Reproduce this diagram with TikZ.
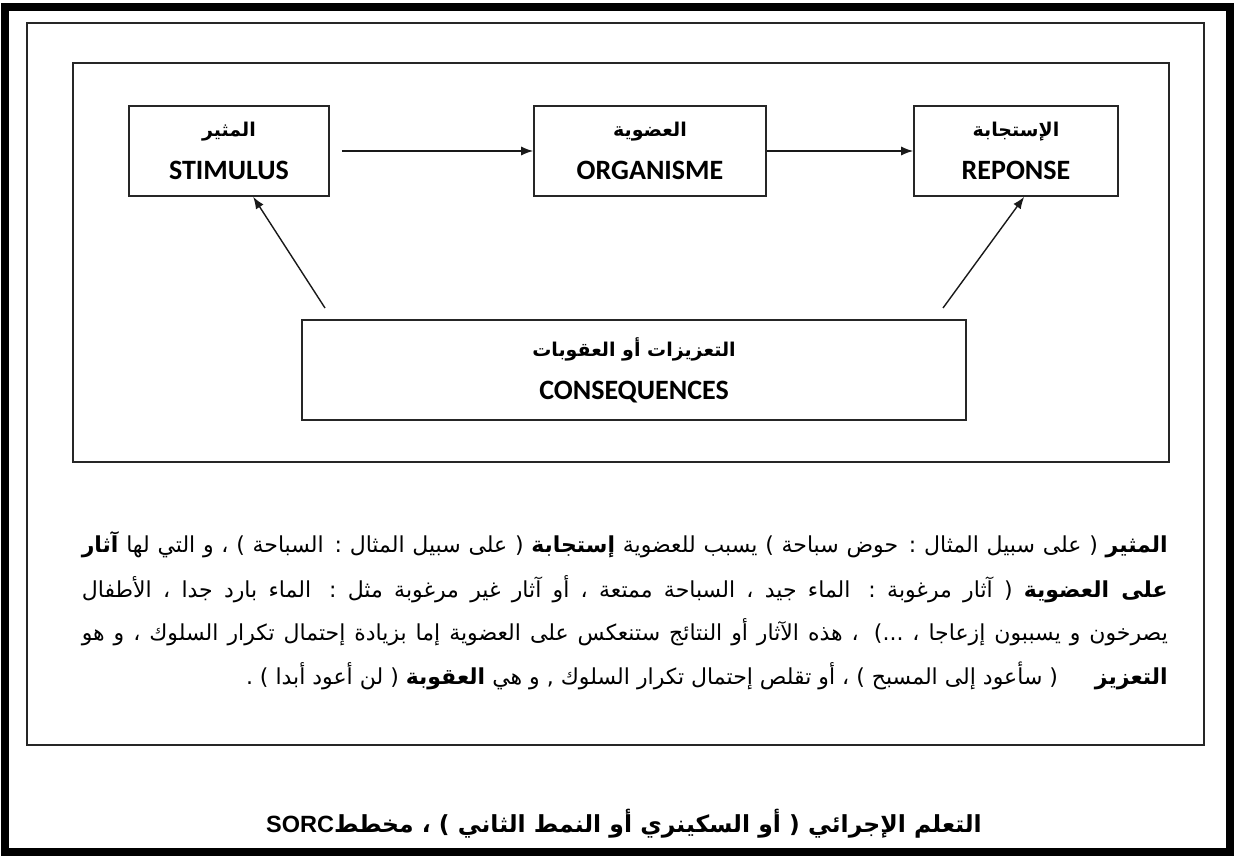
\documentclass[tikz,border=0pt]{standalone}
\usepackage{fontspec}
\usetikzlibrary{arrows.meta,calc}
\TeXXeTstate=1
\newfontfamily\arabicfont[Script=Arabic]{DejaVu Sans}
\newfontfamily\boxlatin{Carlito}
\newfontfamily\titlelatin{Liberation Sans}

% sizes of the text pieces
\newcommand\boxarabic{\arabicfont\bfseries\fontsize{19}{22}\selectfont}
\newcommand\boxword{\boxlatin\bfseries\fontsize{28}{30}\selectfont}
\newcommand\parfont{\arabicfont\fontsize{22}{24}\selectfont}

\begin{document}
\begin{tikzpicture}[x=1pt,y=-1pt,
  frame/.style={draw=black!85, line width=1.6pt},
  block/.style={draw=black!85, line width=1.6pt, inner sep=0pt, align=center,
    font=\fontsize{19}{43}\selectfont},
  link/.style={draw=black!90, line width=1.4pt, -{Latex[length=12pt,width=9pt]}},
  textline/.style={anchor=east, inner sep=0pt},
]
\useasboundingbox (0,0) rectangle (1235,856);
\fill[white] (0,0) rectangle (1235,856);

% frames
\draw[line width=8pt] (5,7) rectangle (1230,852);
\draw[frame] (27,23) rectangle (1204,745);
\draw[frame] (73,63) rectangle (1169,462);

% blocks of the scheme
\node[block, minimum width=200pt, minimum height=90pt] (stim) at (229,151)
  {{\boxarabic\beginR المثير\endR}\\{\boxword STIMULUS}};
\node[block, minimum width=232pt, minimum height=90pt] (org) at (650,151)
  {{\boxarabic\beginR العضوية\endR}\\{\boxword ORGANISME}};
\node[block, minimum width=204pt, minimum height=90pt] (resp) at (1016,151)
  {{\boxarabic\beginR الإستجابة\endR}\\{\boxword REPONSE}};
\node[block, minimum width=664pt, minimum height=100pt] (cons) at (634,370)
  {{\boxarabic\beginR التعزيزات أو العقوبات\endR}\\{\boxword CONSEQUENCES}};

% connectors
\coordinate (c1) at (325,308);
\coordinate (c2) at (943,308);
\draw[link, shorten <=12pt] (stim.east) -- (org.west);
\draw[link] (org.east) -- (resp.west);
\draw[link] (c1) -- ($(stim.south west)!0.62!(stim.south east)$);
\draw[link] (c2) -- ($(resp.south west)!0.54!(resp.south east)$);

% explanatory paragraph, one justified line per node
\node[textline] (p1) at (1168,545) {\hbox to 1086pt{\parfont\beginR {\bfseries المثير} ( على سبيل المثال : حوض سباحة ) يسبب للعضوية {\bfseries إستجابة} ( على سبيل المثال : السباحة ) ، و التي لها {\bfseries آثار}\endR}};
\node[textline] (p2) at (1168,589) {\hbox to 1086pt{\parfont\beginR {\bfseries على العضوية} ( آثار مرغوبة : الماء جيد ، السباحة ممتعة ، أو آثار غير مرغوبة مثل : الماء بارد جدا ، الأطفال\endR}};
\node[textline] (p3) at (1168,632) {\hbox to 1086pt{\parfont\beginR يصرخون و يسببون إزعاجا ، ...) ، هذه الآثار أو النتائج ستنعكس على العضوية إما بزيادة إحتمال تكرار السلوك ، و هو\endR}};
\node[textline] (p4) at (1168,676) {\hbox to 1086pt{\hfill\parfont\beginR {\bfseries التعزيز}\hspace{30pt} ( سأعود إلى المسبح ) ، أو تقلص إحتمال تكرار السلوك , و هي {\bfseries العقوبة} ( لن أعود أبدا ) .\endR}};

% caption
\node[inner sep=0pt] (title) at (624,824)
  {\arabicfont\bfseries\fontsize{23.5}{28}\selectfont\beginR التعلم الإجرائي ( أو السكينري أو النمط الثاني ) ، مخطط\beginL{\titlelatin\bfseries SORC}\endL\endR};
\end{tikzpicture}
\end{document}
